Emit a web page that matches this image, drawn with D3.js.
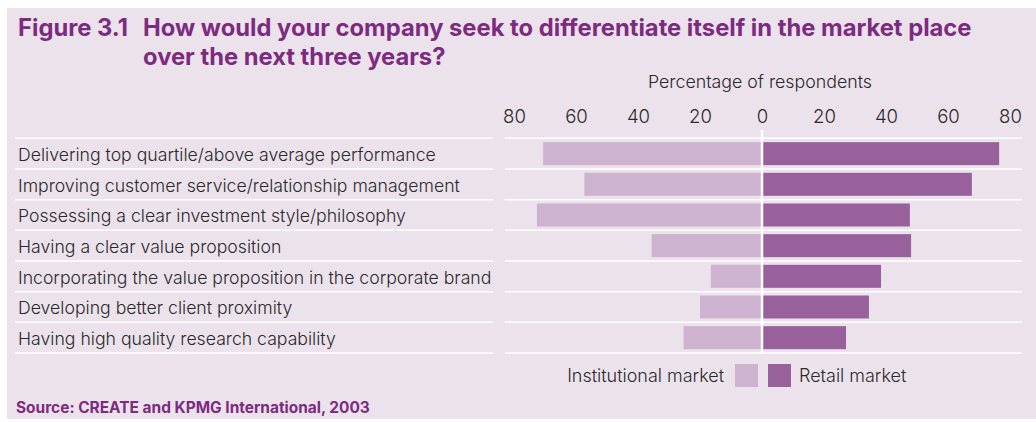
<!DOCTYPE html>
<html>
<head>
<meta charset="utf-8">
<script src="https://cdn.jsdelivr.net/npm/d3@7"></script>
<style>
  html, body { margin: 0; padding: 0; background: #ffffff; }
  svg { display: block; }
  text { font-family: Inter, "Liberation Sans", Arial, sans-serif; font-weight: 300; }
</style>
</head>
<body>
<svg id="chart" width="1036" height="422"></svg>
<script>
// Survey answers, percentage of respondents
const categories = [
  "Delivering top quartile/above average performance",
  "Improving customer service/relationship management",
  "Possessing a clear investment style/philosophy",
  "Having a clear value proposition",
  "Incorporating the value proposition in the corporate brand",
  "Developing better client proximity",
  "Having high quality research capability"
];
const institutional = [70.6, 57.3, 72.6, 35.6, 16.5, 20.0, 25.3];
const retail = [76.5, 67.7, 47.7, 48.1, 38.4, 34.5, 27.1];
const tickValues = [-80, -60, -40, -20, 0, 20, 40, 60, 80];
const seriesNames = ["Institutional market", "Retail market"];

const colors = {
  panel: "#ece2ec",
  title: "#7c2b80",
  text: "#2a2a2a",
  inst: "#cdb3d0",
  retail: "#98619c",
  rule: "#ffffff"
};

const svg = d3.select("#chart");

// scale a text's font size so its rendered width equals `width`
function fitWidth(sel, width) {
  const w = sel.node().getComputedTextLength();
  const fs = parseFloat(sel.style("font-size"));
  const size = fs * width / w;
  sel.style("font-size", size + "px");
  return size;
}

// background panel
svg.append("rect")
  .attr("x", 7).attr("y", 8)
  .attr("width", 1029).attr("height", 411)
  .attr("fill", colors.panel);

// title
const title = svg.append("g")
  .attr("fill", colors.title)
  .style("font-size", "22px");
const t1 = title.append("text").attr("x", 143).attr("y", 36)
  .style("font-weight", "700")
  .text("How would your company seek to differentiate itself in the market place");
const titleSize = fitWidth(t1, 829);
title.append("text").attr("x", 18).attr("y", 36)
  .style("font-weight", "700")
  .style("font-size", titleSize + "px").text("Figure 3.1");
title.append("text").attr("x", 143).attr("y", 65)
  .style("font-weight", "700")
  .style("font-size", titleSize + "px").text("over the next three years?");

// scales
const x = d3.scaleLinear().domain([-80, 80]).range([514, 1010]);
const y = d3.scaleBand()
  .domain(categories)
  .range([138.3, 353])
  .paddingInner(0.25)
  .paddingOuter(0.125);

// category labels, sized so the longest fills the label column
const labels = svg.append("g")
  .attr("fill", colors.text)
  .style("font-size", "17px");
const labelSel = labels.selectAll("text")
  .data(categories).join("text")
  .attr("x", 18)
  .attr("y", d => y(d) + y.bandwidth() / 2 + 7.5)
  .text(d => d);
const longest = labelSel.filter(d => d === categories[4]);
const labelSize = fitWidth(longest, 474);
labels.style("font-size", labelSize + "px");
labelSel.style("font-size", null);

// axis title
const axTitle = svg.append("text")
  .attr("x", 648).attr("y", 88)
  .attr("fill", colors.text)
  .style("font-size", "17px")
  .text("Percentage of respondents");
fitWidth(axTitle, 224);

// tick labels
const axis = d3.axisTop(x)
  .tickValues(tickValues)
  .tickFormat(d => Math.abs(d))
  .tickSize(0)
  .tickPadding(0);
const axisG = svg.append("g")
  .attr("transform", "translate(0,123)")
  .call(axis);
axisG.select(".domain").remove();
axisG.selectAll("text")
  .attr("fill", colors.text)
  .style("font-family", "Inter, \"Liberation Sans\", Arial, sans-serif")
  .style("font-weight", "300")
  .style("font-size", (labelSize * 1.05) + "px");

// row separator rules: label column and plot area
const step = y.step();
const rows = d3.range(categories.length + 1).map(i => 138.3 + i * step);
svg.append("g").selectAll("line")
  .data(rows).join("line")
  .attr("x1", 15).attr("x2", 493)
  .attr("y1", d => d).attr("y2", d => d)
  .attr("stroke", colors.rule).attr("stroke-width", 1.5);
svg.append("g").selectAll("line")
  .data(rows).join("line")
  .attr("x1", 505).attr("x2", 1022)
  .attr("y1", d => d).attr("y2", d => d)
  .attr("stroke", colors.rule).attr("stroke-width", 1.5);

// institutional bars (to the left)
svg.append("g").selectAll("rect")
  .data(institutional).join("rect")
  .attr("x", d => x(-d))
  .attr("y", (d, i) => y(categories[i]))
  .attr("width", d => x(0) - x(-d))
  .attr("height", y.bandwidth())
  .attr("fill", colors.inst);

// retail bars (to the right)
svg.append("g").selectAll("rect")
  .data(retail).join("rect")
  .attr("x", x(0))
  .attr("y", (d, i) => y(categories[i]))
  .attr("width", d => x(d) - x(0))
  .attr("height", y.bandwidth())
  .attr("fill", colors.retail);

// zero rule
svg.append("line")
  .attr("x1", x(0)).attr("x2", x(0))
  .attr("y1", 130).attr("y2", 353)
  .attr("stroke", colors.rule).attr("stroke-width", 2.5);

// legend
const legend = svg.append("g").attr("fill", colors.text);
const lg1 = legend.append("text").attr("x", 724).attr("y", 382)
  .attr("text-anchor", "end").style("font-size", "17px").text(seriesNames[0]);
const legendSize = fitWidth(lg1, 157);
legend.append("rect").attr("x", 735).attr("y", 364)
  .attr("width", 23).attr("height", 23).attr("fill", colors.inst);
legend.append("rect").attr("x", 768).attr("y", 364)
  .attr("width", 23).attr("height", 23).attr("fill", colors.retail);
legend.append("text").attr("x", 799).attr("y", 382)
  .style("font-size", legendSize + "px").text(seriesNames[1]);

// source note
const src = svg.append("text")
  .attr("x", 16).attr("y", 413)
  .attr("fill", colors.title)
  .style("font-weight", "700")
  .style("font-size", "13.5px")
  .text("Source: CREATE and KPMG International, 2003");
fitWidth(src, 354);
</script>
</body>
</html>
